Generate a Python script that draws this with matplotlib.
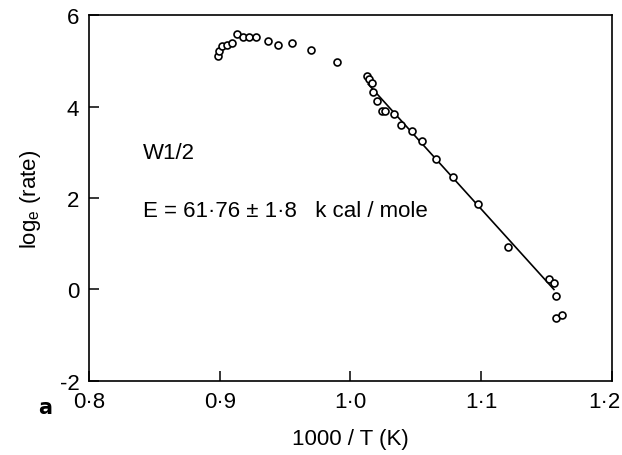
import matplotlib
matplotlib.use("Agg")
import matplotlib.pyplot as plt
import matplotlib.transforms as mtransforms

plt.rcParams["font.family"] = ["Liberation Sans", "DejaVu Sans"]

# data
inv_t = [0.8989, 0.8994, 0.9015, 0.9053, 0.9091, 0.9130, 0.9176, 0.9226, 0.9277,
         0.9367, 0.9448, 0.9555, 0.9698, 0.9894, 1.0124, 1.0144, 1.0162, 1.0174,
         1.0200, 1.0239, 1.0264, 1.0335, 1.0384, 1.0468, 1.0545, 1.0654, 1.0786,
         1.0977, 1.1207, 1.1522, 1.1556, 1.1572, 1.1572, 1.1615]
log_rate = [5.11, 5.21, 5.33, 5.34, 5.39, 5.58, 5.53, 5.53, 5.53,
            5.44, 5.35, 5.39, 5.24, 4.98, 4.67, 4.60, 4.51, 4.32,
            4.13, 3.90, 3.90, 3.83, 3.60, 3.46, 3.24, 2.85, 2.45,
            1.87, 0.92, 0.22, 0.15, -0.15, -0.63, -0.56]

fit_x = [1.0135, 1.1556]
fit_y = [4.49, 0.0]

xticks = [0.8, 0.9, 1.0, 1.1, 1.2]
xlabels = ["0·8", "0·9", "1·0", "1·1", "1·2"]
yticks = [-2, 0, 2, 4, 6]
ylabels = ["-2", "0", "2", "4", "6"]

fig = plt.figure(figsize=(6.22, 4.56), dpi=100)
ax = fig.add_axes([0.1431, 0.1623, 0.8408, 0.8026])

ax.plot(fit_x, fit_y, color="black", linewidth=1.2)
ax.plot(inv_t, log_rate, "o", markerfacecolor="white", markeredgecolor="black",
        markersize=5, markeredgewidth=1.2, linestyle="none")

ax.set_xlim(0.8, 1.2)
ax.set_ylim(-2, 6)
ax.set_xticks(xticks)
ax.set_xticklabels(xlabels)
ax.set_yticks(yticks)
ax.set_yticklabels(ylabels)
ax.tick_params(direction="in", length=7, width=1.1, labelsize=16, pad=7,
               top=False, right=False)
for s in ax.spines.values():
    s.set_linewidth(1.2)

# last x label sits a bit left of its tick so it stays inside the figure
last = ax.get_xticklabels()[-1]
last.set_transform(last.get_transform() +
                   mtransforms.ScaledTranslation(-8 / 100, 0, fig.dpi_scale_trans))

ax.set_xlabel("1000 / T (K)", fontsize=16, labelpad=12)
ax.set_ylabel("log$_\\mathregular{e}$ (rate)", fontsize=16, labelpad=12)

ax.text(0.8413, 3.0, "W1/2", fontsize=16, va="center", ha="left")
ax.text(0.8413, 1.72, "E = 61·76 ± 1·8   k cal / mole", fontsize=16,
        va="center", ha="left")
fig.text(45 / 622, 1 - 408 / 456, "a", fontsize=15, fontweight="bold",
         family="DejaVu Sans", va="center", ha="center")

fig.savefig("out.png", dpi=100)
